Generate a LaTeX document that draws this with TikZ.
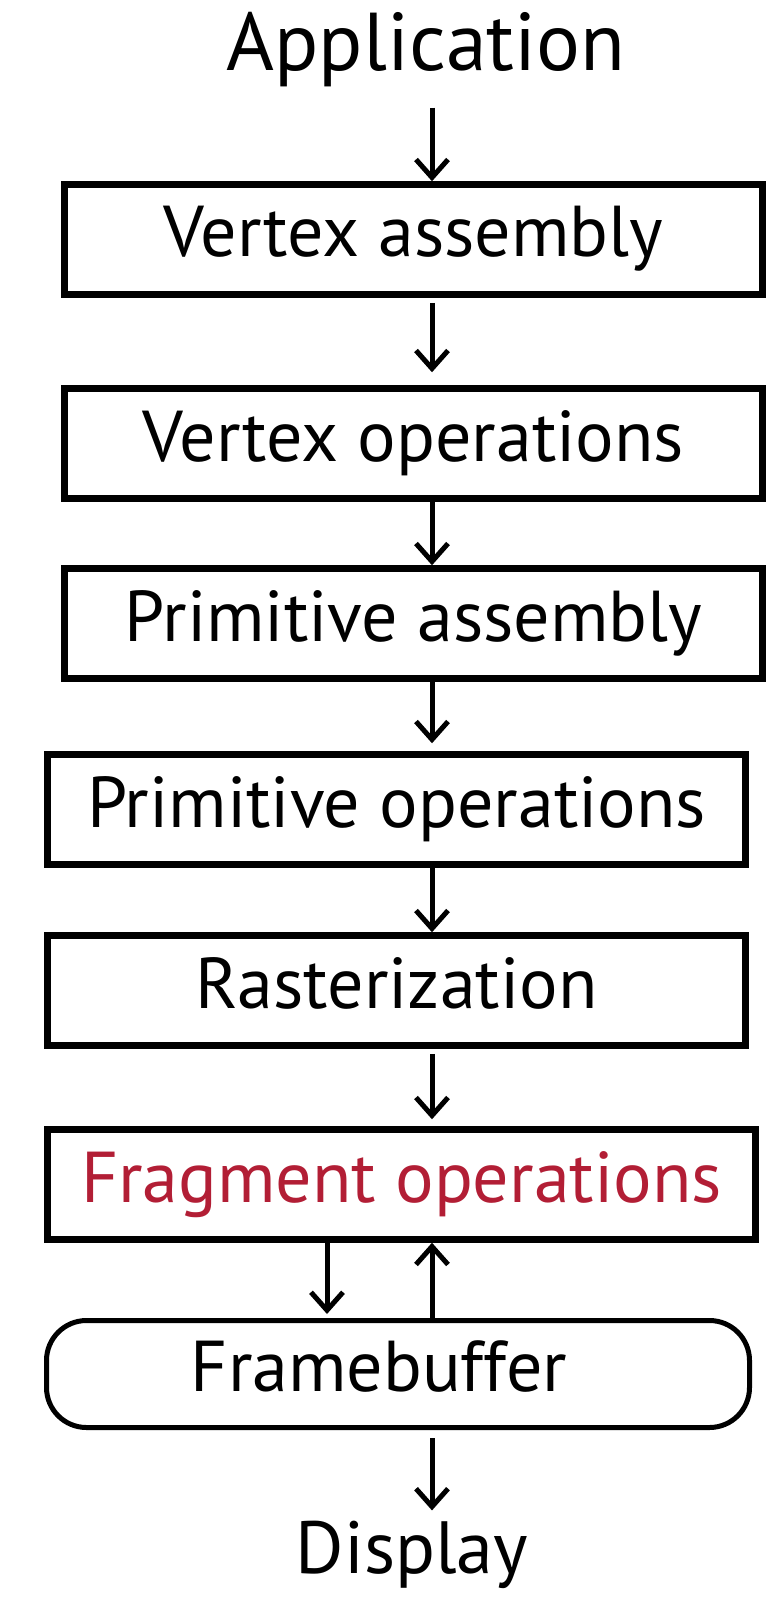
\documentclass[tikz,border=0pt]{standalone}
\usepackage{fontspec}
\setmainfont{PT Sans}
\usetikzlibrary{arrows.meta}
\definecolor{fragred}{RGB}{178,30,53}
\tikzset{stagebox/.style={draw, line width=6.5pt, minimum width=698pt, minimum height=110pt, inner sep=0pt,
           text height=52pt, text depth=17pt, font=\fontsize{72}{80}\selectfont},
         endtext/.style={inner sep=0pt, anchor=base, font=\fontsize{74}{80}\selectfont},
         flow/.style={-{Straight Barb[length=18pt,width=32pt,line width=5pt]}, line width=5pt}}

\begin{document}
\begin{tikzpicture}[x=1pt,y=-1pt]
  \useasboundingbox (0,0) rectangle (776,1597);
  \coordinate (col) at (432,0);
  \coordinate (left) at (327,0);

  \node[endtext, font=\fontsize{82}{90}\selectfont] (app) at (426,71) {Application};
  \node[stagebox] (vasm) at (413.5,239.5) {Vertex assembly};
  \node[stagebox] (vops) at (413.5,443.5) {Vertex operations};
  \node[stagebox] (pasm) at (413.5,623.5) {Primitive assembly};
  \node[stagebox] (pops) at (396.5,809.5) {Primitive operations};
  \node[stagebox] (rast) at (396.5,990.5) {Rasterization};
  \node[stagebox, minimum width=708pt, text=fragred] (frag) at (401.5,1184.5) {Fragment operations};
  \node[stagebox, line width=5pt, rounded corners=40pt, minimum width=703pt, minimum height=107pt] (fbuf) at (398,1374) {\hspace*{-38pt}Framebuffer};
  \node[endtext] (disp) at (412,1573) {Display};

  \draw[flow, shorten <=20pt] (app.south -| col) -- (vasm.north -| col);
  \draw[flow, shorten <=5pt, shorten >=13pt] (vasm.south -| col) -- (vops.north -| col);
  \draw[flow] (vops.south -| col) -- (pasm.north -| col);
  \draw[flow, shorten <=-5pt, shorten >=8pt] (pasm.south -| col) -- (pops.north -| col);
  \draw[flow] (pops.south -| col) -- (rast.north -| col);
  \draw[flow, shorten <=5pt, shorten >=7pt] (rast.south -| col) -- (frag.north -| col);
  % to and from the framebuffer
  \draw[flow, shorten >=4pt] (frag.south -| left) -- (fbuf.north -| left);
  \draw[flow] (fbuf.north -| col) -- (frag.south -| col);
  \draw[flow, shorten <=8pt, shorten >=10pt] (fbuf.south -| col) -- (disp.north -| col);
\end{tikzpicture}
\end{document}
